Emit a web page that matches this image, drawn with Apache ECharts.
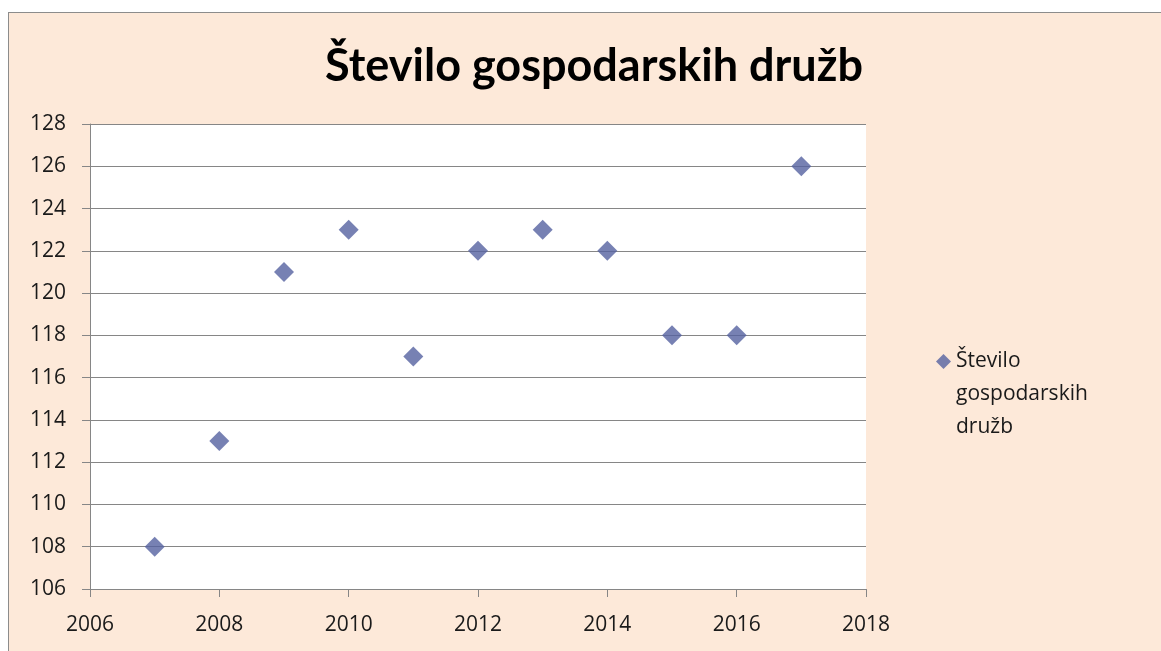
<!DOCTYPE html>
<html>
<head>
<meta charset="utf-8">
<script src="https://cdn.jsdelivr.net/npm/echarts@6/dist/echarts.min.js"></script>
<style>
  html, body { margin: 0; padding: 0; background: #fff; overflow: hidden; }
  #chart {
    position: absolute; left: 8px; top: 12px;
    width: 1200px; height: 700px;
    border: 1px solid #8c8c8c;
    background: #fde9d9;
  }
</style>
</head>
<body>
<div id="chart"></div>
<script>
// data
const years = [2007, 2008, 2009, 2010, 2011, 2012, 2013, 2014, 2015, 2016, 2017];
const companies = [108, 113, 121, 123, 117, 122, 123, 122, 118, 118, 126];
const seriesName = "Število gospodarskih družb";

const chart = echarts.init(document.getElementById("chart"));

const labelFont = "'Open Sans', 'Liberation Sans', sans-serif";
const gridColor = "#868686";

chart.setOption({
  animation: false,
  title: {
    text: seriesName,
    left: 580,
    top: 26,
    textAlign: "center",
    textStyle: {
      fontFamily: "Lato, 'Open Sans', sans-serif",
      fontWeight: "bold",
      fontSize: 45,
      color: "#000"
    }
  },
  legend: {
    left: 922,
    top: 261,
    orient: "vertical",
    itemWidth: 15,
    itemHeight: 15,
    icon: "diamond",
    // blank lines on top keep the marker level with the first text line
    formatter: () => " \n \nŠtevilo\ngospodarskih\ndružb",
    textStyle: {
      fontFamily: labelFont,
      fontSize: 21,
      color: "#1a1a1a",
      lineHeight: 33
    },
    data: [seriesName]
  },
  grid: {
    left: 81,
    top: 111,
    width: 776,
    height: 465,
    containLabel: false,
    show: true,
    backgroundColor: "#fff",
    borderWidth: 0
  },
  xAxis: {
    type: "value",
    min: 2006,
    max: 2018,
    interval: 2,
    axisLine: { show: true, lineStyle: { color: gridColor, width: 1 } },
    axisTick: { show: true, length: 8, lineStyle: { color: gridColor } },
    splitLine: { show: false },
    axisLabel: {
      margin: 26,
      fontFamily: labelFont,
      fontSize: 21,
      color: "#1a1a1a",
      formatter: (v) => String(v)
    }
  },
  yAxis: {
    type: "value",
    min: 106,
    max: 128,
    interval: 2,
    axisLine: { show: true, lineStyle: { color: gridColor, width: 1 } },
    axisTick: { show: true, length: 8, lineStyle: { color: gridColor } },
    splitLine: { show: true, lineStyle: { color: gridColor, width: 1 } },
    axisLabel: {
      margin: 24,
      fontFamily: labelFont,
      fontSize: 21,
      color: "#1a1a1a"
    }
  },
  series: [
    {
      name: seriesName,
      type: "scatter",
      symbol: "diamond",
      symbolSize: 20,
      itemStyle: { color: "#5561a0" },
      data: years.map((y, i) => [y, companies[i]])
    }
  ]
});
</script>
</body>
</html>
